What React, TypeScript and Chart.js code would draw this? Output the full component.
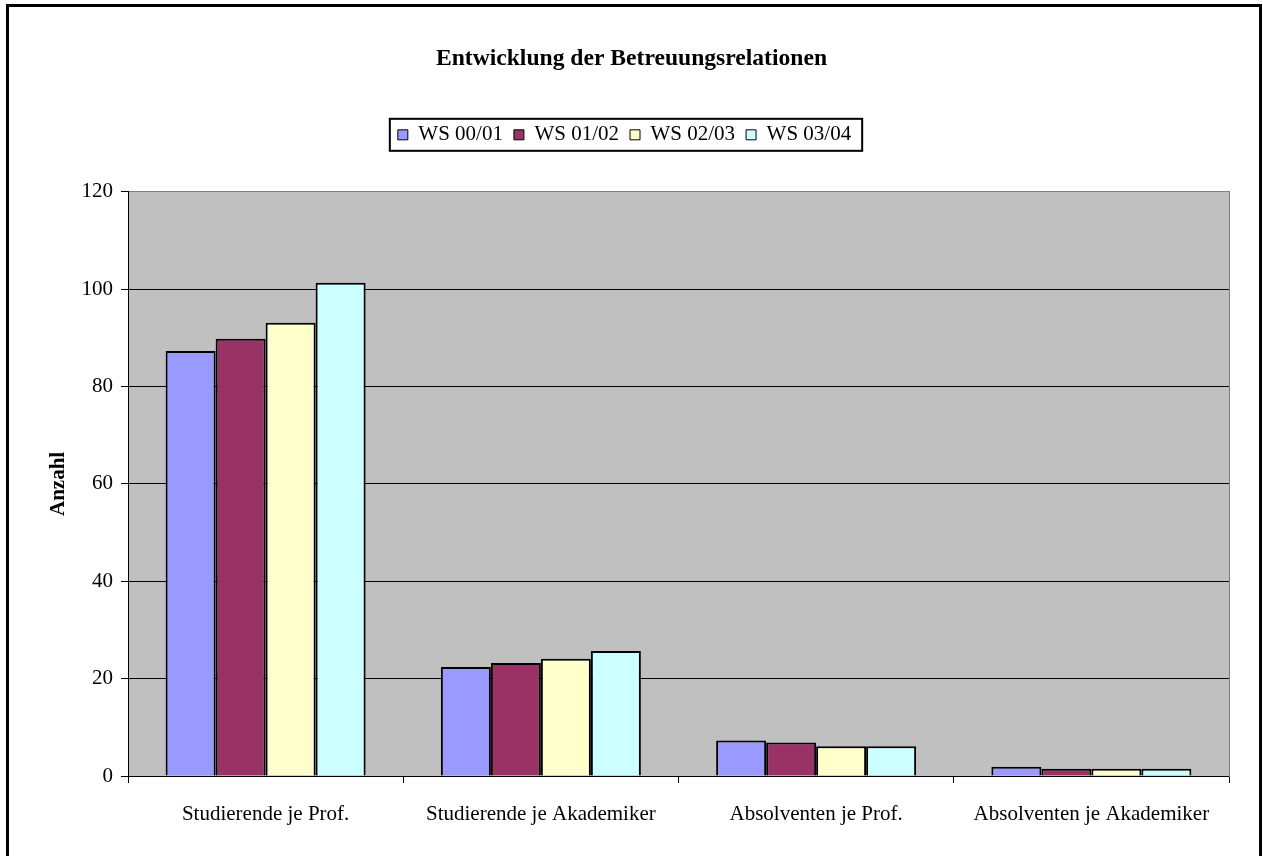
import React, { useEffect, useRef } from "react";
import { Chart, registerables } from "chart.js";

Chart.register(...registerables);

const TITLE = "Entwicklung der Betreuungsrelationen";
const Y_TITLE = "Anzahl";
const categories = [
  "Studierende je Prof.",
  "Studierende je Akademiker",
  "Absolventen je Prof.",
  "Absolventen je Akademiker",
];
const seriesNames = ["WS 00/01", "WS 01/02", "WS 02/03", "WS 03/04"];
const ws0001 = [87.3, 22.4, 7.3, 1.9];
const ws0102 = [89.8, 23.2, 6.9, 1.5];
const ws0203 = [93.1, 24.1, 6.1, 1.5];
const ws0304 = [101.3, 25.7, 6.1, 1.5];
const seriesColors = ["#9999FF", "#993366", "#FFFFCC", "#CCFFFF"];
const yMin = 0;
const yMax = 120;
const yStep = 20;

const FONT = "'Liberation Serif', 'Times New Roman', Times, serif";
const LEGEND_SHIFT = 7;

export default function App() {
  const ref = useRef<HTMLCanvasElement | null>(null);

  useEffect(() => {
    if (!ref.current) return;
    const values = [ws0001, ws0102, ws0203, ws0304];

    const legendTweaks = {
      id: "legendTweaks",
      beforeInit(chart: any) {
        const lg = chart.legend;
        if (!lg) return;
        const origFit = lg.fit;
        lg.fit = function () {
          origFit.call(this);
          this.height += 36.5;
        };
        const origDraw = lg.draw;
        lg.draw = function () {
          this.left -= LEGEND_SHIFT;
          this.right -= LEGEND_SHIFT;
          origDraw.call(this);
          this.left += LEGEND_SHIFT;
          this.right += LEGEND_SHIFT;
        };
      },
    };

    const plotBg = {
      id: "plotBg",
      beforeDraw(chart: any) {
        const { ctx, chartArea } = chart;
        ctx.save();
        ctx.fillStyle = "#C0C0C0";
        ctx.fillRect(chartArea.left, chartArea.top, chartArea.right - chartArea.left, chartArea.bottom - chartArea.top);
        ctx.restore();
      },
    };

    const legendBox = {
      id: "legendBox",
      afterDraw(chart: any) {
        const lg = chart.legend;
        if (!lg || !lg.legendHitBoxes || !lg.legendHitBoxes.length) return;
        const hb = lg.legendHitBoxes;
        const first = hb[0];
        const last = hb[hb.length - 1];
        const left = first.left - 8 - LEGEND_SHIFT;
        const right = last.left + last.width + 11 - LEGEND_SHIFT;
        const cy = first.top + first.height / 2;
        const ctx = chart.ctx;
        ctx.save();
        ctx.strokeStyle = "#000";
        ctx.lineWidth = 2;
        ctx.strokeRect(left, cy - 16, right - left, 32);
        ctx.restore();
      },
    };

    const chart = new Chart(ref.current, {
      type: "bar",
      data: {
        labels: categories,
        datasets: seriesNames.map((name, i) => ({
          label: name,
          data: values[i],
          backgroundColor: seriesColors[i],
          borderColor: "#000",
          borderWidth: 2,
          categoryPercentage: 0.7266,
          barPercentage: 1,
          yAxisID: "y",
        })),
      },
      options: {
        animation: false,
        responsive: false,
        maintainAspectRatio: false,
        layout: { padding: { left: 0, right: 0, top: 0, bottom: 0 } },
        font: { family: FONT },
        plugins: {
          title: {
            display: true,
            text: TITLE,
            color: "#000",
            font: { family: FONT, size: 23.6, weight: "bold" },
            padding: { top: 45, bottom: 40 },
          },
          legend: {
            display: true,
            position: "top",
            labels: {
              color: "#000",
              font: { family: FONT, size: 21 },
              boxWidth: 10,
              boxHeight: 10,
              padding: 11,
              generateLabels(chart: any) {
                const items = Chart.defaults.plugins.legend.labels.generateLabels(chart);
                return items.map((it: any) => ({ ...it, lineWidth: 1, strokeStyle: "#000" }));
              },
            },
          },
          tooltip: { enabled: false },
        },
        scales: {
          x: {
            grid: {
              display: true,
              drawOnChartArea: false,
              drawTicks: true,
              tickLength: 7,
              color: "#000",
              offset: true,
            },
            border: { display: true, color: "#000", width: 1 },
            ticks: {
              color: "#000",
              font: { family: FONT, size: 21 },
              padding: 19,
              maxRotation: 0,
              autoSkip: false,
            },
            afterFit(scale: any) {
              scale.height = 80;
            },
          },
          y: {
            position: "left",
            min: yMin,
            max: yMax,
            ticks: {
              stepSize: yStep,
              color: "#000",
              font: { family: FONT, size: 21 },
              padding: 8,
            },
            grid: {
              color: (c: any) => (c.tick && c.tick.value === yMax ? "#808080" : "#000"),
              tickColor: "#000",
              tickLength: 7,
              lineWidth: 1,
            },
            border: { display: true, color: "#000", width: 1 },
            title: {
              display: true,
              text: Y_TITLE,
              color: "#000",
              font: { family: FONT, size: 21, weight: "bold" },
              padding: { top: 46, bottom: 0 },
            },
            afterFit(scale: any) {
              scale.width = 128;
            },
          },
          y2: {
            position: "right",
            display: true,
            min: 0,
            max: 1,
            grid: { display: false, drawOnChartArea: false, drawTicks: false },
            ticks: { display: false },
            border: { display: true, color: "#808080", width: 1 },
            afterFit(scale: any) {
              scale.width = 34;
            },
          },
        },
      } as any,
      plugins: [legendTweaks, plotBg, legendBox],
    });

    return () => chart.destroy();
  }, []);

  return (
    <div style={{ position: "absolute", left: 0, top: 0, width: 1263, height: 856, overflow: "hidden", background: "#fff" }}>
      <canvas ref={ref} width={1263} height={856} style={{ position: "absolute", left: 0, top: 0, width: 1263, height: 856 }} />
      <div
        style={{
          position: "absolute",
          left: 6,
          top: 4,
          width: 1256,
          height: 900,
          border: "3px solid #000",
          boxSizing: "border-box",
          pointerEvents: "none",
        }}
      />
    </div>
  );
}
